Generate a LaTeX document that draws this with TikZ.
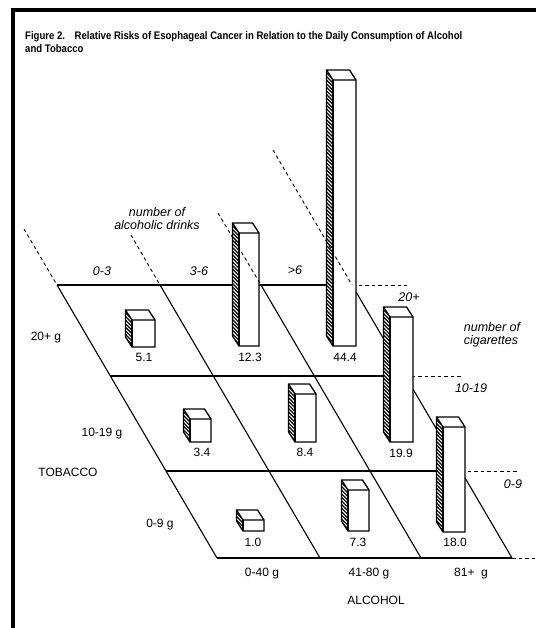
\documentclass[tikz,border=0pt]{standalone}
\usepackage{fontspec}
\usepackage{graphicx}
\setmainfont{Liberation Sans}
\tikzset{
  grid line/.style={line width=1.1pt},
  dash line/.style={line width=0.9pt, dash pattern=on 3.5pt off 3pt},
  frame line/.style={line width=3.2pt},
  val/.style={font=\fontsize{12}{12}\selectfont, inner sep=0pt},
  lab/.style={font=\fontsize{12}{12}\selectfont, inner sep=0pt},
  ital/.style={font=\fontsize{12.5}{12.5}\selectfont\itshape, inner sep=0pt},
  title/.style={font=\fontsize{11}{11}\selectfont\bfseries, inner sep=0pt, anchor=west},
  barline/.style={line width=1.3pt, line join=miter},
}
\newcommand\riskbar[4]{% #1 left x, #2 right x, #3 top y, #4 bottom y (front face)
  \fill[white] (#1-6.5,#3-10) -- (#2-6.5,#3-10) -- (#2,#3) -- (#2,#4) -- (#1,#4) -- (#1-6.5,#4-10) -- cycle;
  \begin{scope}
    \clip (#1-6.5,#3-10) -- (#1,#3) -- (#1,#4) -- (#1-6.5,#4-10) -- cycle;
    \pgfmathtruncatemacro\nstripes{(#4-#3+30)/3.6}
    \foreach \k in {0,...,\nstripes}{
      \draw[line width=1.2pt] (#1-9,#3-24+3.6*\k) -- ++(12,12);
    }
  \end{scope}
  \draw[barline] (#1-6.5,#3-10) -- (#2-6.5,#3-10) -- (#2,#3) -- (#2,#4) -- (#1,#4) -- (#1-6.5,#4-10) -- cycle;
  \draw[barline] (#1-6.5,#3-10) -- (#1,#3) -- (#2,#3);
  \draw[barline] (#1,#3) -- (#1,#4);
}
\begin{document}
\begin{tikzpicture}[x=1pt,y=-1pt]
\useasboundingbox (0,0) rectangle (536,628);
\fill[white] (0,0) rectangle (536,628);
% frame
\draw[frame line] (13,628) -- (13,10) -- (536,10);
% title
\node[title] (t1) at (25,37) {\scalebox{0.87}[1]{Figure 2.\hspace{1em}Relative Risks of Esophageal Cancer in Relation to the Daily Consumption of Alcohol}};
\node[title] (t2) at (25,49) {\scalebox{0.87}[1]{and Tobacco}};
% grid corners
\coordinate (b0) at (57,285);  \coordinate (f0) at (217,558);
\coordinate (b1) at (160,285); \coordinate (f1) at (320,558);
\coordinate (b2) at (261,285); \coordinate (f2) at (421,558);
\coordinate (b3) at (352,285); \coordinate (f3) at (512,558);
\coordinate (m1l) at (110,376); \coordinate (m1r) at (405,376);
\coordinate (m2l) at (166,471); \coordinate (m2r) at (461,471);
% solid grid
\draw[grid line] (b0) -- (b3);
\draw[grid line] (m1l) -- (m1r);
\draw[grid line] (m2l) -- (m2r);
\draw[grid line] (f0) -- (f3);
\draw[grid line] (b0) -- (f0);
\draw[grid line] (b1) -- (f1);
\draw[grid line] (b2) -- (f2);
\draw[grid line] (b3) -- (f3);
% dashed horizontal extensions
\coordinate (e0) at (407,285);
\coordinate (e1) at (462,376);
\coordinate (e2) at (517,471);
\coordinate (e3) at (536,558);
\draw[dash line] (b3) -- (e0);
\draw[dash line] (m1r) -- (e1);
\draw[dash line] (m2r) -- (e2);
\draw[dash line] (f3) -- (e3);
% dashed slanted extensions (left two)
\coordinate (d0) at (24,229);
\coordinate (d1) at (131,235);
\coordinate (d2) at (218,213);
\coordinate (d3) at (273,150);
\draw[dash line] (d0) -- (b0);
\draw[dash line] (d1) -- (b1);
% bars, back to front
\riskbar{132}{155}{320}{347}
\riskbar{239}{259}{233}{346}
\riskbar{333}{356}{80}{346}
\riskbar{190}{211}{419}{442}
\riskbar{295}{316}{394}{442}
\riskbar{390}{413}{317}{442}
\riskbar{243}{264}{520}{531}
\riskbar{348}{369}{490}{531}
\riskbar{443}{465}{427}{532}
% dashed slanted extensions over the bars
\draw[dash line] (d2) -- (b2);
\draw[dash line] (d3) -- (b3);
% values
\node[val] (v51) at (144,357) {5.1};
\node[val] (v123) at (250,357) {12.3};
\node[val] (v444) at (345,357) {44.4};
\node[val] (v34) at (202,452) {3.4};
\node[val] (v84) at (305,452) {8.4};
\node[val] (v199) at (401,453) {19.9};
\node[val] (v10) at (253,542) {1.0};
\node[val] (v73) at (358,542) {7.3};
\node[val] (v180) at (455,542) {18.0};
% top labels
\node[ital] (nad1) at (157,212) {number of};
\node[ital] (nad2) at (157,225) {alcoholic drinks};
\node[ital] (c03) at (102,271) {0-3};
\node[ital] (c36) at (199,271) {3-6};
\node[ital] (c6) at (295,270) {>6};
% right labels
\node[ital] (r20) at (409,297) {20+};
\node[ital] (nc1) at (492,327) {number of};
\node[ital] (nc2) at (491,341) {cigarettes};
\node[ital] (r1019) at (471,388) {10-19};
\node[ital] (r09) at (513,484) {0-9};
% left labels
\node[lab] (t20) at (46,338) {20+ g};
\node[lab] (t1019) at (102,434) {10-19 g};
\node[lab] (tob) at (68,472) {TOBACCO};
\node[lab] (t09) at (160,525) {0-9 g};
% bottom labels
\node[lab] (a040) at (262,574) {0-40 g};
\node[lab] (a4180) at (369,574) {41-80 g};
\node[lab] (a81) at (471,574) {81+\ \ g};
\node[lab] (alc) at (376,600) {ALCOHOL};
\end{tikzpicture}
\end{document}
